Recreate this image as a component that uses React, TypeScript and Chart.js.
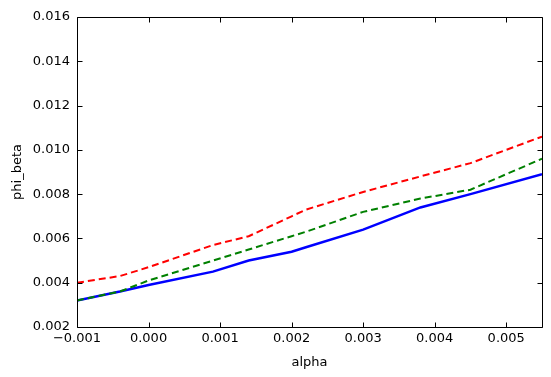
import React, { useEffect, useRef } from "react";
import { Chart, registerables } from "chart.js";
Chart.register(...registerables);

const alphaValues = [-0.001, -0.0004, 0.0, 0.0009, 0.0014, 0.002, 0.0022, 0.003, 0.0038, 0.0045, 0.0055];
const blueSeries = [0.0032, 0.0036, 0.0039, 0.0045, 0.005, 0.0054, 0.0056, 0.0064, 0.0074, 0.008, 0.0089];
const redSeries = [0.004, 0.0043, 0.0047, 0.0057, 0.0061, 0.007, 0.0073, 0.0081, 0.0088, 0.0094, 0.0106];
const greenSeries = [0.0032, 0.0036, 0.0041, 0.005, 0.0055, 0.0061, 0.0063, 0.0072, 0.0078, 0.0082, 0.0096];
const xTickValues = [-0.001, 0.0, 0.001, 0.002, 0.003, 0.004, 0.005];
const yTickValues = [0.002, 0.004, 0.006, 0.008, 0.01, 0.012, 0.014, 0.016];

const FONT = "'DejaVu Sans', sans-serif";

const fmt = (v: any) => {
  const s = Number(v).toFixed(3);
  return s.startsWith("-") ? "\u2212" + s.slice(1) : s;
};

const frame = {
  id: "mplFrame",
  afterDatasetsDraw(chart: any) {
    const ctx = chart.ctx;
    const a = chart.chartArea;
    const sx = chart.scales.x;
    const sy = chart.scales.y;
    ctx.save();
    ctx.strokeStyle = "#000000";
    ctx.lineWidth = 1;
    ctx.setLineDash([]);
    const L = Math.round(a.left) + 0.5;
    const R = Math.round(a.right) + 0.5;
    const T = Math.round(a.top) + 0.5;
    const B = Math.round(a.bottom) + 0.5;
    ctx.beginPath();
    ctx.rect(L, T, R - L, B - T);
    for (const v of xTickValues) {
      const x = Math.round(sx.getPixelForValue(v)) + 0.5;
      ctx.moveTo(x, B);
      ctx.lineTo(x, B - 5);
      ctx.moveTo(x, T);
      ctx.lineTo(x, T + 5);
    }
    for (const v of yTickValues) {
      const y = Math.round(sy.getPixelForValue(v)) + 0.5;
      ctx.moveTo(L, y);
      ctx.lineTo(L + 5, y);
      ctx.moveTo(R, y);
      ctx.lineTo(R - 5, y);
    }
    ctx.stroke();
    ctx.restore();
  },
};

export default function App() {
  const ref = useRef<HTMLCanvasElement>(null);
  useEffect(() => {
    const mk = (ys: number[]) => alphaValues.map((x, i) => ({ x, y: ys[i] }));
    const chart = new Chart(ref.current!, {
      type: "line",
      data: {
        datasets: [
          { data: mk(redSeries), borderColor: "#ff0000", borderWidth: 2, borderDash: [7, 4], pointRadius: 0, fill: false, tension: 0 },
          { data: mk(greenSeries), borderColor: "#008000", borderWidth: 2, borderDash: [7, 4], pointRadius: 0, fill: false, tension: 0 },
          { data: mk(blueSeries), borderColor: "#0000ff", borderWidth: 2.5, pointRadius: 0, fill: false, tension: 0 },
        ],
      },
      options: {
        animation: false,
        responsive: false,
        layout: { padding: { left: 0, right: 9, top: 17, bottom: 0 } },
        plugins: { legend: { display: false }, tooltip: { enabled: false } },
        scales: {
          x: {
            type: "linear",
            min: -0.001,
            max: 0.0055,
            afterBuildTicks: (s: any) => { s.ticks = xTickValues.map((v) => ({ value: v })); },
            afterFit: (s: any) => { s.height = 50; },
            grid: { display: false, drawTicks: false },
            border: { display: false },
            ticks: { color: "#000", font: { family: FONT, size: 13 }, padding: 4, maxRotation: 0, callback: fmt },
            title: { display: true, text: "alpha", color: "#000", font: { family: FONT, size: 13 }, padding: { top: 3, bottom: 7 } },
          },
          y: {
            type: "linear",
            min: 0.002,
            max: 0.016,
            afterBuildTicks: (s: any) => { s.ticks = yTickValues.map((v) => ({ value: v })); },
            afterFit: (s: any) => { s.width = 77; },
            grid: { display: false, drawTicks: false },
            border: { display: false },
            ticks: { color: "#000", font: { family: FONT, size: 13 }, padding: 7, callback: fmt },
            title: { display: true, text: "phi_beta", color: "#000", font: { family: FONT, size: 13 }, padding: { top: 10, bottom: 0 } },
          },
        },
      },
      plugins: [frame],
    });
    return () => chart.destroy();
  }, []);
  return (
    <div style={{ position: "fixed", left: 0, top: 0, width: 551, height: 377, background: "#fff" }}>
      <canvas ref={ref} width={551} height={377} />
    </div>
  );
}
